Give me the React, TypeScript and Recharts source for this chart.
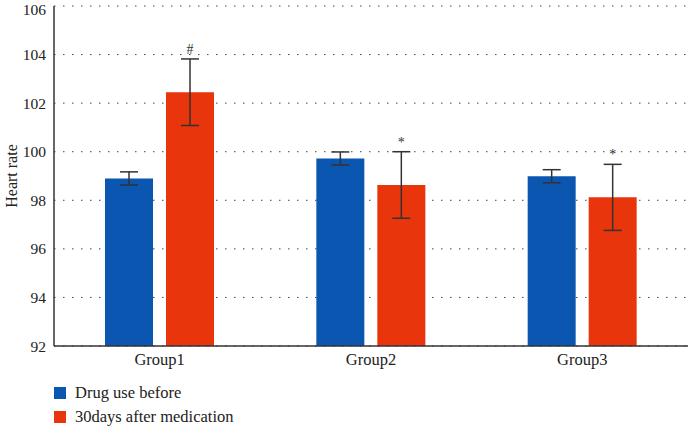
import React from "react";
import { BarChart, Bar, XAxis, YAxis, CartesianGrid, ErrorBar, LabelList, Legend } from "recharts";

const groups = ["Group1", "Group2", "Group3"];
const beforeValues = [98.9, 99.72, 98.99];
const beforeErrors = [0.27, 0.27, 0.27];
const afterValues = [102.45, 98.63, 98.12];
const afterErrors = [1.37, 1.37, 1.36];
const marks = ["#", "*", "*"];
const yTicks = [92, 94, 96, 98, 100, 102, 104, 106];

const BLUE = "#0A56B0";
const RED = "#E8350C";
const FONT = "'Liberation Serif', 'Times New Roman', serif";

const data = groups.map((g, i) => ({
  group: g,
  before: beforeValues[i],
  beforeErr: beforeErrors[i],
  after: afterValues[i],
  afterErr: afterErrors[i],
  mark: marks[i],
}));

// put the significance mark just above the top of the error bar
function MarkLabel(props: any) {
  const { x, y, width, height, index } = props;
  const d = data[index];
  const perUnit = height / (d.after - 92);
  const top = y - d.afterErr * perUnit;
  return (
    <text x={x + width / 2} y={top - 5} textAnchor="middle" fontSize={14} fontFamily={FONT} fill="#333">
      {d.mark}
    </text>
  );
}

function LegendBox() {
  const items = [
    { label: "Drug use before", color: BLUE },
    { label: "30days after medication", color: RED },
  ];
  return (
    <div style={{ paddingLeft: 54, paddingTop: 5, fontFamily: FONT, fontSize: 16.5, color: "#222" }}>
      {items.map((it) => (
        <div key={it.label} style={{ display: "flex", alignItems: "center", height: 24 }}>
          <span style={{ width: 12, height: 12, background: it.color, marginRight: 9, display: "inline-block" }} />
          <span>{it.label}</span>
        </div>
      ))}
    </div>
  );
}

export default function App() {
  return (
    <div style={{ position: "absolute", left: 0, top: 0, background: "#fff" }}>
      <BarChart
        width={690}
        height={426}
        data={data}
        margin={{ top: 6, right: 2, left: 0, bottom: 0 }}
        barCategoryGap={51}
        barGap={13}
      >
        <CartesianGrid vertical={false} stroke="#444" strokeDasharray="1.5 7.5" />
        <XAxis
          dataKey="group"
          axisLine={{ stroke: "#333", strokeWidth: 1.5 }}
          tickLine={false}
          tickSize={0}
          tickMargin={7}
          height={30}
          tick={{ fontSize: 16.5, fontFamily: FONT, fill: "#222" }}
        />
        <YAxis
          domain={[92, 106]}
          ticks={yTicks}
          width={54}
          axisLine={{ stroke: "#333", strokeWidth: 1.5 }}
          tickLine={false}
          tickSize={0}
          tickMargin={8}
          tick={{ fontSize: 15.5, fontFamily: FONT, fill: "#222" }}
          label={{
            value: "Heart rate",
            angle: -90,
            position: "insideLeft",
            offset: 11,
            style: { fontSize: 16, fontFamily: FONT, fill: "#222", textAnchor: "middle" },
          }}
        />
        <Legend verticalAlign="bottom" align="left" height={50} content={() => <LegendBox />} />
        <Bar dataKey="before" fill={BLUE} isAnimationActive={false}>
          <ErrorBar dataKey="beforeErr" width={9} stroke="#333" strokeWidth={1.5} />
        </Bar>
        <Bar dataKey="after" fill={RED} isAnimationActive={false}>
          <ErrorBar dataKey="afterErr" width={9} stroke="#333" strokeWidth={1.5} />
          <LabelList dataKey="mark" content={<MarkLabel />} />
        </Bar>
      </BarChart>
    </div>
  );
}
